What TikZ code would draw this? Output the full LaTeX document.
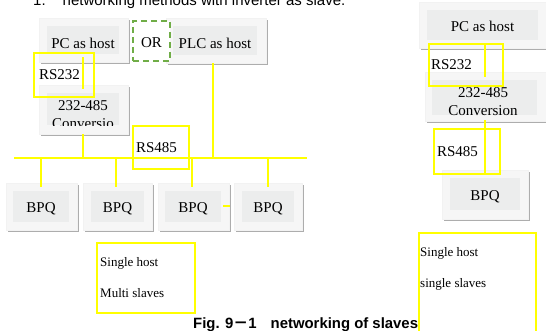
\documentclass[tikz,border=0pt]{standalone}
\usepackage{fontspec}
\setmainfont{Liberation Serif}
\newfontfamily\arial{Liberation Sans}
\newfontfamily\cjk{Noto Sans CJK SC}
\usetikzlibrary{shadows}
\definecolor{ylw}{HTML}{FFFF00}
\definecolor{grn}{HTML}{70AD47}
\definecolor{panelfill}{HTML}{F6F6F6}
\definecolor{corefill}{HTML}{ECEDED}
\definecolor{shadowc}{HTML}{ADADAD}
\tikzset{
  panel/.style={draw=gray!10, line width=0.4pt, fill=panelfill, inner sep=0pt,
    drop shadow={shadow xshift=1.5pt, shadow yshift=-2.2pt, fill=shadowc, opacity=1}},
  core/.style={fill=corefill, inner sep=0pt, font=\fontsize{15}{18}\selectfont, align=center},
  ybox/.style={draw=ylw, line width=2pt, inner ysep=0pt, align=left,
    font=\fontsize{15}{18}\selectfont},
  ylink/.style={draw=ylw, line width=2pt},
  ordash/.style={draw=grn, line width=2pt, dash pattern=on 6pt off 4pt, fill=white,
    inner sep=0pt, font=\fontsize{15}{18}\selectfont},
  note/.style={font=\fontsize{13}{31}\selectfont, align=left, inner sep=0pt},
}
\begin{document}
\begin{tikzpicture}[x=1pt,y=-1pt]
\useasboundingbox (0,0) rectangle (546,331);

% heading and caption
\node[anchor=base west, inner sep=0pt, font=\arial\fontsize{15}{18}\selectfont] (head) at (33,6)
  {1.\hspace{17pt}networking methods with inverter as slave.};
\node[anchor=base west, inner sep=0pt, font=\arial\bfseries\fontsize{14.9}{18}\selectfont] (cap) at (193,328)
  {Fig. 9{\cjk\bfseries －}1\hspace{14pt}networking of slaves};

% ---------- left network ----------
\node[panel, minimum width=89, minimum height=44] (pcL) at (83.5,40) {};
\node[core, minimum width=72, minimum height=28, text height=18pt, text depth=0pt] (pcLin) at (83,40) {PC as host};

\node[panel, minimum width=100, minimum height=45] (plc) at (216,40.5) {};
\node[core, minimum width=84, minimum height=29, text height=17pt, text depth=0pt] (plcin) at (215,40.5) {PLC as host};

\node[ordash, minimum width=37, minimum height=40, text height=13pt, text depth=0pt] (or) at (151.5,41) {OR\hspace{3pt}};

\node[panel, minimum width=89, minimum height=49] (convL) at (83.5,109.5) {};
\node[core, minimum width=72, minimum height=32] (convLin) at (83,109) {};
\begin{scope}
  \clip (convLin.south west) rectangle (convLin.north east);
  \node[core, fill=none] (convLtxt) at (83,115) {232-485\\Conversio};
\end{scope}

\foreach \n/\ox/\ow/\ix/\iw in {b1/41.5/71/41/56, b2/117.5/69/117.5/53, b3/193.5/71/193/56, b4/268/68/268/52}{
  \node[panel, minimum width=\ow, minimum height=47] (\n) at (\ox,206.5) {};
  \node[core, minimum width=\iw, minimum height=31, text height=13pt, text depth=0pt] (\n in) at (\ix,206.5) {BPQ};
}

% yellow connectors (left)
\coordinate (busL) at (14,158);
\coordinate (busR) at (307,158);
\draw[ylink] (busL) -- (busR);
\draw[ylink] ([xshift=-0.5pt,yshift=5pt]pcL.south) -- ([xshift=-0.5pt,yshift=-4pt]convL.north);
\draw[ylink] ([xshift=-0.5pt]convL.south) -- ([xshift=-0.5pt]convL.south |- busL);
\draw[ylink] ([xshift=-3pt]plc.south) -- ([xshift=-3pt]plc.south |- busL);
\foreach \n/\dx in {b1/-0.5,b2/-1.5,b3/-1.5,b4/0}{
  \draw[ylink] ([xshift=\dx pt]\n.north |- busL) -- ([xshift=\dx pt,yshift=-4pt]\n.north);
}
\draw[ylink] ([xshift=2pt]b3in.east) -- ([xshift=-4pt]b4.west);

% yellow label boxes (left)
\node[ybox, anchor=north west, inner xsep=5pt, text width=50pt, minimum height=44] (rs232L) at (33,52) {RS232};
\node[ybox, anchor=north west, inner xsep=3pt, text width=50pt, minimum height=43] (rs485L) at (132,125) {RS485};
\node[draw=ylw, line width=2pt, anchor=north west, minimum width=98, minimum height=70, inner sep=0pt] (multi) at (96,242) {};
\node[note, anchor=west] (multitxt) at (100,277.5) {Single host\\Multi slaves};

% ---------- right network ----------
\node[panel, minimum width=129, minimum height=46] (pcR) at (483.5,25) {};
\node[core, minimum width=111, minimum height=30, text height=14pt, text depth=0pt] (pcRin) at (482.5,25) {PC as host};

\node[panel, minimum width=121, minimum height=49] (convR) at (485.5,96.5) {};
\node[core, minimum width=105, minimum height=35] (convRin) at (484.5,97.5) {};
\node[core, fill=none] (convRtxt) at (483,102) {232-485\\Conversion};

\node[panel, minimum width=86, minimum height=49] (bpqR) at (485,194.5) {};
\node[core, minimum width=70, minimum height=32, text height=14pt, text depth=0pt] (bpqRin) at (485,194) {BPQ};

\draw[ylink] ([xshift=1.5pt,yshift=5pt]pcR.south) -- ([xshift=-0.5pt,yshift=-5pt]convR.north);
\draw[ylink] ([xshift=-0.5pt,yshift=1pt]convR.south) -- ([yshift=-3pt]bpqR.north);

\node[ybox, anchor=north west, inner xsep=2pt, text width=70pt, minimum height=42] (rs232R) at (428,43) {RS232};
\node[ybox, anchor=north west, inner xsep=3pt, text width=60pt, minimum height=45] (rs485R) at (433,128) {RS485};
\node[draw=ylw, line width=2pt, anchor=north west, minimum width=117, minimum height=110, inner sep=0pt] (single) at (418,232) {};
\node[note, anchor=north west] (singletxt) at (420,247) {Single host\\single slaves};
\end{tikzpicture}
\end{document}
